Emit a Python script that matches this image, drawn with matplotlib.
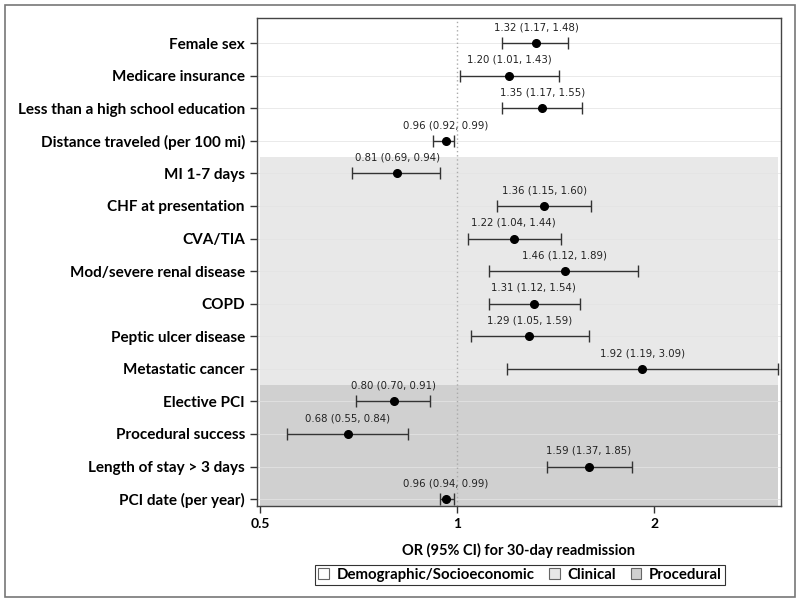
import matplotlib.pyplot as plt
from matplotlib.patches import Rectangle, Patch
from matplotlib.ticker import FixedLocator, NullLocator

labels = ["Female sex", "Medicare insurance", "Less than a high school education",
          "Distance traveled (per 100 mi)", "MI 1-7 days", "CHF at presentation",
          "CVA/TIA", "Mod/severe renal disease", "COPD", "Peptic ulcer disease",
          "Metastatic cancer", "Elective PCI", "Procedural success",
          "Length of stay > 3 days", "PCI date (per year)"]
odds = [1.32, 1.20, 1.35, 0.96, 0.81, 1.36, 1.22, 1.46, 1.31, 1.29, 1.92,
        0.80, 0.68, 1.59, 0.96]
lower = [1.17, 1.01, 1.17, 0.92, 0.69, 1.15, 1.04, 1.12, 1.12, 1.05, 1.19,
         0.70, 0.55, 1.37, 0.94]
upper = [1.48, 1.43, 1.55, 0.99, 0.94, 1.60, 1.44, 1.89, 1.54, 1.59, 3.09,
         0.91, 0.84, 1.85, 0.99]
# group of each row: 0 demographic, 1 clinical, 2 procedural
groups = [0, 0, 0, 0, 1, 1, 1, 1, 1, 1, 1, 2, 2, 2, 2]
group_names = ["Demographic/Socioeconomic", "Clinical", "Procedural"]
group_colors = ["white", "#e8e8e8", "#d0d0d0"]
xticks = [0.5, 1, 2]

fig = plt.figure(figsize=(8, 6.02), dpi=100)
fig.patches.append(Rectangle((0.006, 0.008), 0.988, 0.984, transform=fig.transFigure,
                             fill=False, edgecolor="#777777", linewidth=1.2))
ax = fig.add_axes([0.321, 0.159, 0.655, 0.811])

n = len(labels)
ys = list(range(n))
xmin, xmax = 0.5, max(upper)

# shaded group bands
for g in (1, 2):
    rows = [i for i in ys if groups[i] == g]
    top = rows[0] - 0.5
    bot = rows[-1] + 0.5 if g == 1 else n - 1 + 0.2
    ax.add_patch(Rectangle((xmin, top), xmax - xmin, bot - top,
                           facecolor=group_colors[g], edgecolor="none", zorder=0))

for y in ys:
    ax.axhline(y, color="#e4e4e4", linewidth=0.7, zorder=1, alpha=0.8)

ax.axvline(1, color="#aaaaaa", linestyle=(0, (1, 2)), linewidth=1, zorder=1)

err = [[o - l for o, l in zip(odds, lower)], [u - o for o, u in zip(odds, upper)]]
ax.errorbar(odds, ys, xerr=err, fmt="o", color="black", ecolor="#333333",
            elinewidth=1, capsize=4, capthick=1, markersize=5.5, zorder=3)

for o, l, u, y in zip(odds, lower, upper, ys):
    ax.text(o, y - 0.33, f"{o:.2f} ({l:.2f}, {u:.2f})", ha="center", va="bottom",
            fontsize=7.3, family="DejaVu Sans", color="#222222", zorder=4)

ax.set_xscale("log")
ax.set_xlim(0.494, 3.125)
ax.set_ylim(n - 1 + 0.22, -0.77)
ax.xaxis.set_major_locator(FixedLocator(xticks))
ax.xaxis.set_minor_locator(NullLocator())
ax.set_xticklabels(["0.5", "1", "2"], fontsize=10, fontweight="bold", family="Lato")
ax.set_yticks(ys)
ax.set_yticklabels(labels, fontsize=11, fontweight="bold", family="Lato")
ax.tick_params(axis="both", length=5, color="#333333", width=1)
ax.set_xlabel("OR (95% CI) for 30-day readmission", fontsize=10.5, fontweight="bold",
              family="Lato", labelpad=9)
for s in ax.spines.values():
    s.set_color("#444444")
    s.set_linewidth(1)

handles = [Patch(facecolor=c, edgecolor="#666666", linewidth=0.8) for c in group_colors]
leg = fig.legend(handles, group_names, loc="center", bbox_to_anchor=(0.65, 0.045),
                 ncol=3, frameon=True, fancybox=False, handlelength=0.7, handleheight=0.7,
                 handletextpad=0.5, columnspacing=1.0, borderpad=0.2,
                 prop={"family": "Lato", "weight": "bold", "size": 10.8})
leg.get_frame().set_edgecolor("black")
leg.get_frame().set_linewidth(0.8)

fig.savefig("out.png", dpi=100)
